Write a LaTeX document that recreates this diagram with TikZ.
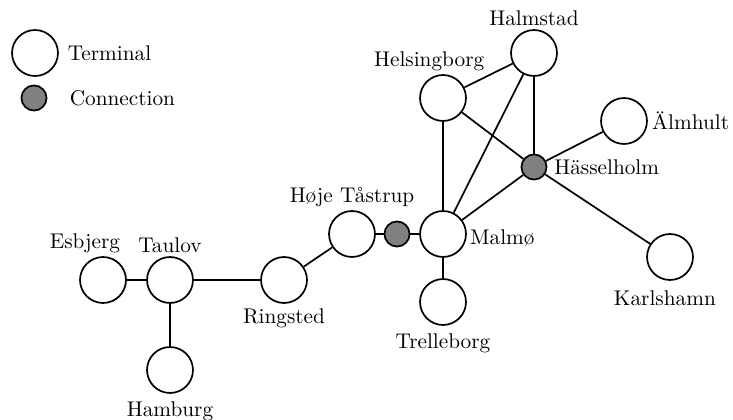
\documentclass[tikz,border=0pt]{standalone}
\usepackage{tikz}
\usetikzlibrary{positioning}

\begin{document}
\begin{tikzpicture}[
  x=0.47pt, y=-0.47pt,
  terminal/.style={circle, draw, thick, fill=white, minimum size=21.6pt, inner sep=0pt},
  junction/.style={circle, draw, thick, fill=gray, minimum size=11.8pt, inner sep=0pt},
  link/.style={thick},
  up/.style={label distance=-2pt}
]
  \useasboundingbox (0,0) rectangle (733,420);

  % Legend
  \node[terminal, label={[label distance=0.7pt]right:Terminal}] (legterm) at (35,53) {};
  \node[junction, label={[label distance=7pt]right:Connection}] (legconn) at (34,98) {};

  % Denmark / Germany
  \node[terminal, label={[up, xshift=-8.5pt]above:Esbjerg}] (esbjerg) at (103,280) {};
  \node[terminal, label={[up]above:Taulov}] (taulov) at (170,280) {};
  \node[terminal, label=below:Hamburg] (hamburg) at (170,370) {};
  \node[terminal, label={[label distance=-1pt]below:Ringsted}] (ringsted) at (284,280) {};
  \node[terminal, label={[up]above:Høje Tåstrup}] (hoeje) at (352,234) {};
  \node[junction] (bridge) at (397,234) {};

  % Sweden
  \node[terminal, label={[label distance=-2pt, yshift=-2pt]right:Malmø}] (malmoe) at (443,234) {};
  \node[terminal, label=below:Trelleborg] (trelleborg) at (443,302) {};
  \node[terminal, label={[up, xshift=-6.5pt]above:Helsingborg}] (helsingborg) at (443,98) {};
  \node[terminal, label={[up]above:Halmstad}] (halmstad) at (534,53) {};
  \node[terminal, label={[label distance=-1.5pt]right:Älmhult}] (aelmhult) at (624,121) {};
  \node[junction, label={[label distance=-0.3pt]right:Hässelholm}] (haessleholm) at (534,167) {};
  \node[terminal, label={[xshift=-2.4pt, yshift=-1pt]below:Karlshamn}] (karlshamn) at (670,257) {};

  % Links
  \draw[link] (esbjerg) -- (taulov);
  \draw[link] (taulov) -- (hamburg);
  \draw[link] (taulov) -- (ringsted);
  \draw[link] (ringsted) -- (hoeje);
  \draw[link] (hoeje) -- (bridge);
  \draw[link] (bridge) -- (malmoe);
  \draw[link] (malmoe) -- (trelleborg);
  \draw[link] (malmoe) -- (helsingborg);
  \draw[link] (malmoe) -- (halmstad);
  \draw[link] (malmoe) -- (haessleholm);
  \draw[link] (helsingborg) -- (halmstad);
  \draw[link] (helsingborg) -- (haessleholm);
  \draw[link] (halmstad) -- (haessleholm);
  \draw[link] (haessleholm) -- (aelmhult);
  \draw[link] (haessleholm) -- (karlshamn);
\end{tikzpicture}
\end{document}
